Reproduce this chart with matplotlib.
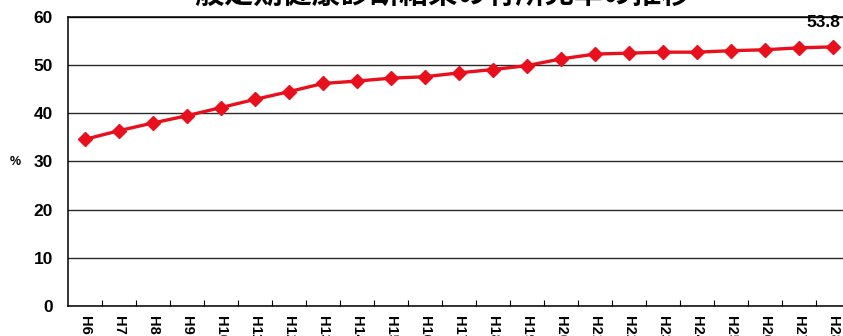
import numpy as np
import matplotlib.pyplot as plt

plt.rcParams['font.family'] = ['Liberation Sans', 'Noto Sans CJK JP', 'DejaVu Sans']

# Survey years (Heisei) and finding rate (%)
years = ['H6', 'H7', 'H8', 'H9', 'H10', 'H11', 'H12', 'H13', 'H14', 'H15', 'H16',
         'H17', 'H18', 'H19', 'H20', 'H21', 'H22', 'H23', 'H24', 'H25', 'H26',
         'H27', 'H28']
rates = [34.6, 36.4, 38.0, 39.5, 41.2, 42.9, 44.5, 46.2, 46.7, 47.3, 47.6,
         48.4, 49.1, 49.9, 51.3, 52.3, 52.5, 52.7, 52.7, 53.0, 53.2, 53.6, 53.8]
yticks = [0, 10, 20, 30, 40, 50, 60]
title = '一般定期健康診断結果の有所見率の推移'


def plot_chart():
    fig = plt.figure(figsize=(8.43, 3.36), dpi=100)
    ax = fig.add_axes([0.0807, 0.0893, 0.9276, 0.8601])

    x = np.arange(len(years))
    ax.plot(x, rates, color='#e8101c', linewidth=2.4, marker='D',
            markersize=7.5, zorder=3)

    ax.set_xlim(-0.5, len(years) - 0.5)
    ax.set_ylim(0, 60)

    # Horizontal gridlines
    ax.set_yticks(yticks)
    ax.yaxis.grid(True, color='#2a2a2a', linewidth=1.0)
    ax.set_yticklabels([str(t) for t in yticks], fontsize=12.5, fontweight='bold')
    ax.tick_params(axis='y', length=0, pad=11)

    # Category labels with small ticks between categories
    ax.set_xticks(x)
    ax.set_xticklabels(years, rotation=270, fontsize=10.5, fontweight='bold')
    ax.tick_params(axis='x', length=0, pad=7)
    ax.set_xticks(x[:-1] + 0.5, minor=True)
    ax.tick_params(axis='x', which='minor', direction='in', length=4, width=0.8)

    for side in ['left', 'bottom', 'top']:
        ax.spines[side].set_color('black')
        ax.spines[side].set_linewidth(1.1)
    ax.spines['right'].set_visible(False)

    fig.text(0.011, 0.518, '%', fontsize=9, fontweight='bold', ha='left', va='center')

    ax.annotate(f'{rates[-1]}', (x[-1], rates[-1]), xytext=(-7, 12),
                textcoords='offset points', ha='center', va='bottom',
                fontsize=12.5, fontweight='bold')

    fig.text(0.509, 1.018, title, fontsize=21, fontweight='bold',
             family=['Noto Sans CJK JP'], ha='center', va='center')

    fig.savefig('out.png', dpi=100)


if __name__ == '__main__':
    plot_chart()
